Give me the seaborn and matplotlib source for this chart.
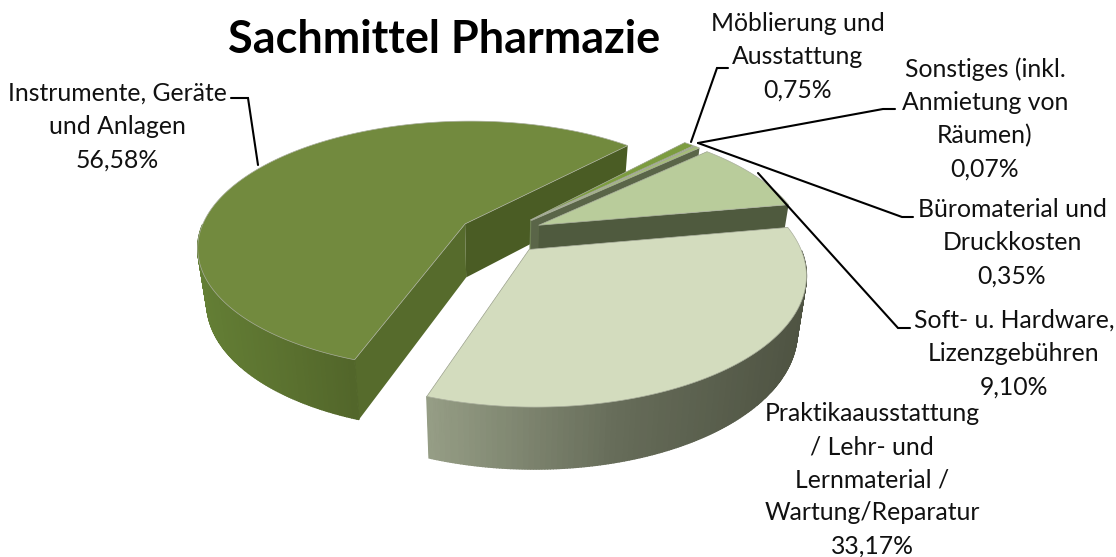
import numpy as np
import matplotlib
matplotlib.use("Agg")
import matplotlib.pyplot as plt
import seaborn as sns

# Sachmittel Pharmazie, shares in percent
labels = [
    "Instrumente, Geräte\nund Anlagen\n56,58%",
    "Möblierung und\nAusstattung\n0,75%",
    "Sonstiges (inkl.\nAnmietung von\nRäumen)\n0,07%",
    "Büromaterial und\nDruckkosten\n0,35%",
    "Soft- u. Hardware,\nLizenzgebühren\n9,10%",
    "Praktikaausstattung\n/ Lehr- und\nLernmaterial /\nWartung/Reparatur\n33,17%",
]
values = [56.58, 0.75, 0.07, 0.35, 9.10, 33.17]

# colours of top, cut faces and outer wall (left, middle, right)
top_colors = ["#728a3e", "#7c9c3f", "#8fa85a", "#a5bd78", "#b9cc9b", "#d3dcbe"]
face_colors = ["#4a5c24", "#6f8155", "#6f8155", "#5a6548", "#4f5a3e", "#6a7058"]
start_face_colors = ["#566b2c", "#6f8155", "#6f8155", "#6f8155", "#6f8155", "#6a7058"]
wall_left = ["#647f35", "#6f8155", "#6f8155", "#6f8155", "#6f8155", "#959d85"]
wall_mid = ["#5c7330", "#6f8155", "#6f8155", "#6f8155", "#6f8155", "#666c59"]
wall_right = ["#52662a", "#6f8155", "#6f8155", "#6f8155", "#5f6a4a", "#4e5342"]

# label anchors (centre x, top y) and leader lines in pixels
label_pos = [(117, 82), (798, 12), (985, 57), (1012, 198), (1014, 309), (872, 402)]
leaders = [
    [(258, 165), (248, 98), (231, 98)],
    [(691, 142), (717, 68), (728, 68)],
    [(698, 143), (883, 109), (895, 109)],
    [(698, 143), (902, 217), (913, 217)],
    [(758, 173), (898, 328), (910, 328)],
]

# pie geometry
start_angle = 199.3
explode = 0.16
cx, cy = 501, 234
radius_x, radius_y = 266, 124
persp = 0.175
depth = 54
bottom_shrink = 0.97


def project(u, v, bottom=False):
    s = 1 / (1 - persp * v)
    shrink = bottom_shrink if bottom else 1
    x = cx + s * radius_x * u * shrink
    y = cy + s * radius_y * v * shrink + (s * depth if bottom else 0)
    return np.column_stack([x, y])


def draw_slice(ax, a0, a1, i):
    mid = np.radians((a0 + a1) / 2)
    ou, ov = explode * np.sin(mid), -explode * np.cos(mid)
    t = np.radians(np.linspace(a0, a1, max(int(a1 - a0) * 2, 3)))
    u = ou + np.sin(t)
    v = ov - np.cos(t)
    top = project(u, v)
    bot = project(u, v, bottom=True)
    apex_t = project(np.array([ou]), np.array([ov]))
    apex_b = project(np.array([ou]), np.array([ov]), bottom=True)

    # cut faces
    ax.fill(*np.vstack([apex_t, top[:1], bot[:1], apex_b]).T, color=start_face_colors[i], lw=0)
    ax.fill(*np.vstack([apex_t, top[-1:], bot[-1:], apex_b]).T, color=face_colors[i], lw=0)

    # outer wall, only the part that faces the viewer, a quad per step for the shading
    front = np.cos(t) < 0
    if front.sum() > 1:
        shades = sns.blend_palette([wall_left[i], wall_mid[i], wall_right[i]], 64)
        xmin, xmax = top[front, 0].min(), top[front, 0].max()
        for j in np.flatnonzero(front[:-1] & front[1:]):
            quad = np.vstack([top[j], top[j + 1], bot[j + 1], bot[j]])
            frac = (quad[:, 0].mean() - xmin) / max(xmax - xmin, 1)
            ax.fill(*quad.T, color=shades[int(np.clip(frac * 64, 0, 63))], lw=1)

    # top
    ax.fill(*np.vstack([apex_t, top]).T, facecolor=top_colors[i], edgecolor="#a9ae9c", lw=0.5)


sns.set_theme(style="white")
plt.rcParams["font.family"] = ["Lato", "DejaVu Sans"]

fig, ax = plt.subplots(figsize=(11.16, 5.57), dpi=100)
fig.subplots_adjust(0, 0, 1, 1)
ax.set_xlim(0, 1116)
ax.set_ylim(557, 0)
ax.axis("off")

shares = np.array(values) / np.sum(values) * 360
ends = start_angle + np.cumsum(shares)
starts = ends - shares
for i in range(len(values)):
    draw_slice(ax, starts[i], ends[i], i)

for line in leaders:
    ax.plot(*np.array(line).T, color="black", lw=1.5, solid_joinstyle="miter")

for text, (x, y) in zip(labels, label_pos):
    ax.text(x, y, text, ha="center", va="top", fontsize=17.8, color="#111111", linespacing=1.53)

ax.text(444, 40, "Sachmittel Pharmazie", ha="center", va="center", fontsize=32.4, fontweight="bold", color="black")

fig.savefig("out.png", dpi=100)
